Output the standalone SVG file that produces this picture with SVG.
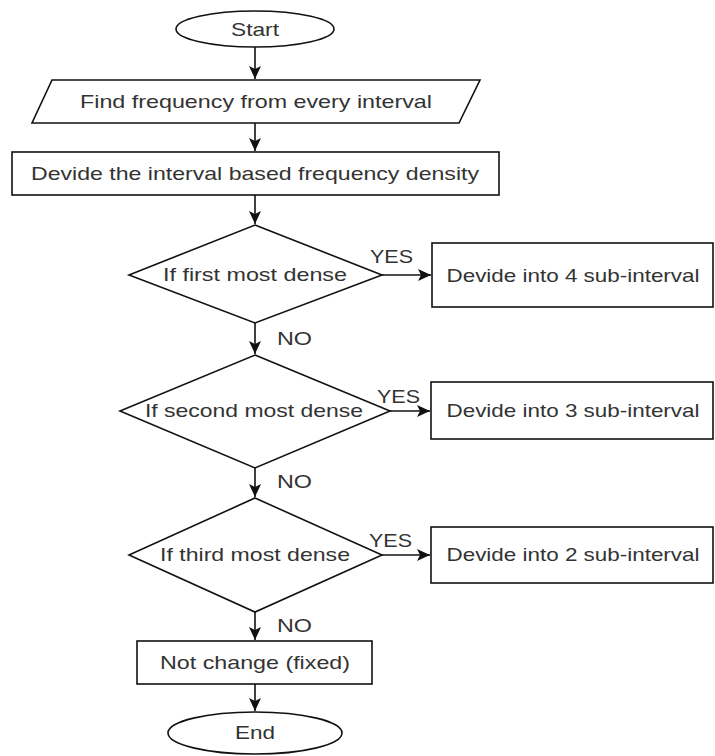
<svg xmlns="http://www.w3.org/2000/svg" width="715" height="756" viewBox="0 0 715 756">
<style>
.s{fill:#fff;stroke:#111;stroke-width:1.6}
.t{font-family:"Liberation Sans",Arial,sans-serif;font-size:18.5px;fill:#333;text-anchor:middle}
.l{font-family:"Liberation Sans",Arial,sans-serif;font-size:18.5px;fill:#333}
.c{fill:none;stroke:#111;stroke-width:1.6}
</style>
<defs>
<marker id="ah" markerUnits="userSpaceOnUse" markerWidth="14" markerHeight="12" refX="13" refY="6" orient="auto">
<path d="M0,0 L13,6 L0,12 L3,6 z" fill="#111"/>
</marker>
</defs>
<rect width="715" height="756" fill="#fff"/>
<g id="connectors">
<line class="c" x1="255" y1="47" x2="255" y2="79" marker-end="url(#ah)"/>
<line class="c" x1="255" y1="123" x2="255" y2="151" marker-end="url(#ah)"/>
<line class="c" x1="255" y1="195" x2="255" y2="224" marker-end="url(#ah)"/>
<line class="c" x1="382" y1="275" x2="431" y2="275" marker-end="url(#ah)"/>
<line class="c" x1="255" y1="323" x2="255" y2="354" marker-end="url(#ah)"/>
<line class="c" x1="390" y1="411" x2="430" y2="411" marker-end="url(#ah)"/>
<line class="c" x1="255" y1="468" x2="255" y2="497" marker-end="url(#ah)"/>
<line class="c" x1="382" y1="555" x2="430" y2="555" marker-end="url(#ah)"/>
<line class="c" x1="255" y1="612" x2="255" y2="640" marker-end="url(#ah)"/>
<line class="c" x1="255" y1="684" x2="255" y2="711" marker-end="url(#ah)"/>
<text class="l" x="370" y="263" textLength="43" lengthAdjust="spacingAndGlyphs">YES</text>
<text class="l" x="277" y="345" textLength="35" lengthAdjust="spacingAndGlyphs">NO</text>
<text class="l" x="377" y="403" textLength="43" lengthAdjust="spacingAndGlyphs">YES</text>
<text class="l" x="277" y="488" textLength="35" lengthAdjust="spacingAndGlyphs">NO</text>
<text class="l" x="369" y="547" textLength="43" lengthAdjust="spacingAndGlyphs">YES</text>
<text class="l" x="277" y="632" textLength="35" lengthAdjust="spacingAndGlyphs">NO</text>
</g>
<g id="start">
<ellipse class="s" cx="255" cy="29" rx="79" ry="18"/>
<text class="t" x="255" y="36" textLength="48" lengthAdjust="spacingAndGlyphs">Start</text>
</g>
<g id="find">
<polygon class="s" points="52,80 480,80 459,123 32,123"/>
<text class="t" x="256" y="108" textLength="352" lengthAdjust="spacingAndGlyphs">Find frequency from every interval</text>
</g>
<g id="divide">
<rect class="s" x="12" y="152" width="487" height="43"/>
<text class="t" x="255" y="180" textLength="448" lengthAdjust="spacingAndGlyphs">Devide the interval based frequency density</text>
</g>
<g id="d1">
<polygon class="s" points="255,225 382,275 255,323 129,275"/>
<text class="t" x="255" y="281" textLength="184" lengthAdjust="spacingAndGlyphs">If first most dense</text>
</g>
<g id="b1">
<rect class="s" x="432" y="243" width="281" height="64"/>
<text class="t" x="573" y="282" textLength="253" lengthAdjust="spacingAndGlyphs">Devide into 4 sub-interval</text>
</g>
<g id="d2">
<polygon class="s" points="255,355 390,411 255,468 120,411"/>
<text class="t" x="254" y="417" textLength="218" lengthAdjust="spacingAndGlyphs">If second most dense</text>
</g>
<g id="b2">
<rect class="s" x="431" y="382" width="282" height="57"/>
<text class="t" x="573" y="417" textLength="253" lengthAdjust="spacingAndGlyphs">Devide into 3 sub-interval</text>
</g>
<g id="d3">
<polygon class="s" points="255,498 382,555 255,612 129,555"/>
<text class="t" x="255" y="561" textLength="190" lengthAdjust="spacingAndGlyphs">If third most dense</text>
</g>
<g id="b3">
<rect class="s" x="431" y="527" width="282" height="56"/>
<text class="t" x="573" y="561" textLength="253" lengthAdjust="spacingAndGlyphs">Devide into 2 sub-interval</text>
</g>
<g id="fixed">
<rect class="s" x="137" y="641" width="235" height="43"/>
<text class="t" x="255" y="669" textLength="190" lengthAdjust="spacingAndGlyphs">Not change (fixed)</text>
</g>
<g id="end">
<ellipse class="s" cx="255" cy="733" rx="87" ry="21"/>
<text class="t" x="255" y="739" textLength="40" lengthAdjust="spacingAndGlyphs">End</text>
</g>
</svg>
